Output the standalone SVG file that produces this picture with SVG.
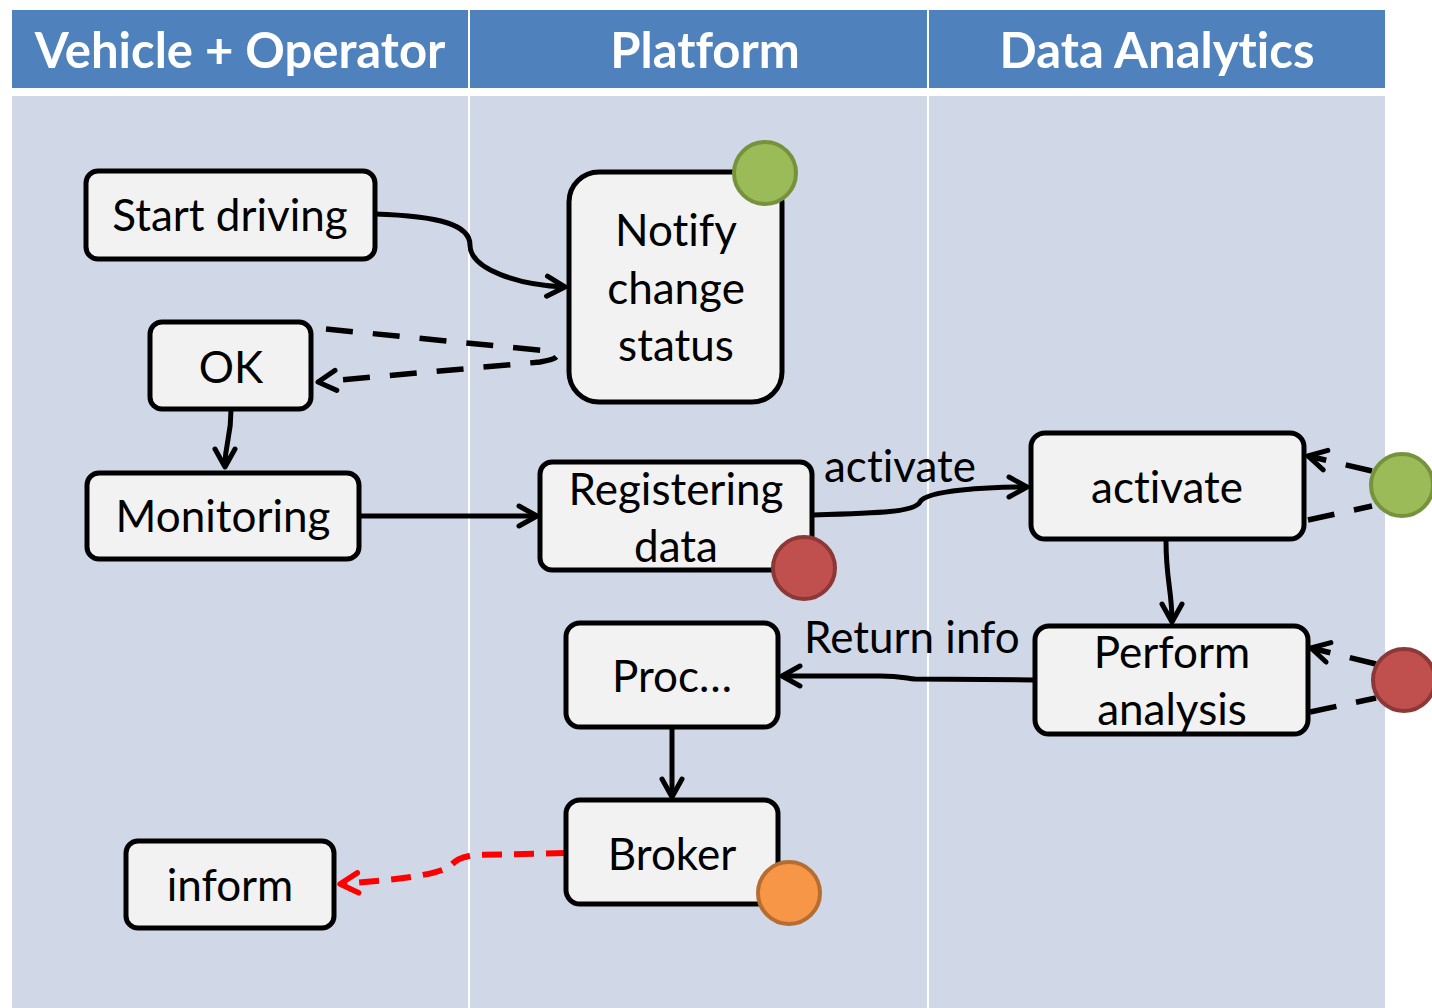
<svg xmlns="http://www.w3.org/2000/svg" width="1432" height="1008" viewBox="0 0 1432 1008">
<style>
text{font-variant-ligatures:none}
.hdr{fill:#4F81BD}
.lane{fill:#D0D8E8}
.ht{font-family:Lato,"Open Sans",sans-serif;font-weight:bold;font-size:49px;fill:#fff;text-anchor:middle}
.box{fill:#F2F2F2;stroke:#000;stroke-width:5}
.t{font-family:Lato,"Open Sans",sans-serif;font-size:44px;fill:#000;text-anchor:middle}
.lbl{font-family:Lato,"Open Sans",sans-serif;font-size:44px;fill:#000}
.c{fill:none;stroke:#000;stroke-width:5;stroke-linecap:butt}
.d{fill:none;stroke:#000;stroke-width:5.5;stroke-dasharray:27 20}
.r{fill:none;stroke:#FF0000;stroke-width:6;stroke-dasharray:20 12}
.g{fill:#9BBB59;stroke:#76923C;stroke-width:4}
.rd{fill:#C0504D;stroke:#8C3836;stroke-width:4}
.o{fill:#F79646;stroke:#B66D31;stroke-width:4}
</style>
<defs>
<marker id="a" viewBox="0 0 26 26" refX="23" refY="13" markerWidth="26" markerHeight="26" markerUnits="userSpaceOnUse" orient="auto">
<path d="M5,3 L23,13 L5,23" fill="none" stroke="#000" stroke-width="5" stroke-linecap="round" stroke-linejoin="round"/>
</marker>
<marker id="ar" viewBox="0 0 26 26" refX="23" refY="13" markerWidth="26" markerHeight="26" markerUnits="userSpaceOnUse" orient="auto">
<path d="M5,3 L23,13 L5,23" fill="none" stroke="#FF0000" stroke-width="5.5" stroke-linecap="round" stroke-linejoin="round"/>
</marker>
</defs>
<rect width="1432" height="1008" fill="#fff"/>
<g id="lanes">
<rect class="hdr" x="12" y="10" width="456" height="78"/>
<rect class="hdr" x="470" y="10" width="457" height="78"/>
<rect class="hdr" x="929" y="10" width="456" height="78"/>
<rect class="lane" x="12" y="96" width="456" height="912"/>
<rect class="lane" x="470" y="96" width="457" height="912"/>
<rect class="lane" x="929" y="96" width="456" height="912"/>
<text class="ht" x="240" y="68">Vehicle + Operator</text>
<text class="ht" x="705" y="68">Platform</text>
<text class="ht" x="1157" y="68">Data Analytics</text>
</g>
<g id="connectors">
<path class="c" d="M375,214 C440,216 470,225 470,245 C470,270 520,285 565,287" marker-end="url(#a)"/>
<path class="d" d="M326,329 L538,350 C562,352 564,358 540,362 L318,382" marker-end="url(#a)"/>
<path class="c" d="M231,410 C231,440 225,440 225,467" marker-end="url(#a)"/>
<path class="c" d="M360,516 L537,516" marker-end="url(#a)"/>
<path class="c" d="M812,515 C880,513 915,512 920,502 C926,490 990,487 1027,487" marker-end="url(#a)"/>
<path class="d" d="M1372,471 L1308,456" marker-end="url(#a)"/>
<path class="d" d="M1308,520 L1372,506"/>
<path class="c" d="M1166,541 C1166,580 1172,590 1172,622" marker-end="url(#a)"/>
<path class="c" d="M1033,680 L915,679 C905,678 900,676 880,676 L782,676" marker-end="url(#a)"/>
<path class="d" d="M1376,664 L1311,648" marker-end="url(#a)"/>
<path class="d" d="M1310,712 L1376,698"/>
<path class="c" d="M672,729 L672,797" marker-end="url(#a)"/>
<path class="r" d="M566,853 L475,855 C458,857 455,862 450,866 C440,874 400,880 340,884" marker-end="url(#ar)"/>
<text class="lbl" x="824" y="482">activate</text>
<text class="lbl" x="804" y="653">Return info</text>
</g>
<g id="start-driving"><rect class="box" x="86" y="171" width="289" height="88" rx="12"/><text class="t" x="230" y="231">Start driving</text></g>
<g id="notify"><rect class="box" x="569" y="172" width="213" height="230" rx="30"/><text class="t" x="676" y="246">Notify</text><text class="t" x="676" y="304">change</text><text class="t" x="676" y="361">status</text><circle class="g" cx="765" cy="173" r="31"/></g>
<g id="ok"><rect class="box" x="150" y="322" width="161" height="87" rx="12"/><text class="t" x="231" y="383">OK</text></g>
<g id="monitoring"><rect class="box" x="87" y="473" width="272" height="86" rx="12"/><text class="t" x="223" y="532">Monitoring</text></g>
<g id="registering"><rect class="box" x="540" y="462" width="272" height="108" rx="12"/><text class="t" x="676" y="505">Registering</text><text class="t" x="676" y="562">data</text><circle class="rd" cx="804" cy="568" r="31"/></g>
<g id="activate"><rect class="box" x="1031" y="433" width="273" height="106" rx="14"/><text class="t" x="1167" y="503">activate</text></g>
<g id="perform"><rect class="box" x="1035" y="626" width="273" height="108" rx="14"/><text class="t" x="1172" y="668">Perform</text><text class="t" x="1172" y="725">analysis</text></g>
<g id="proc"><rect class="box" x="566" y="623" width="212" height="104" rx="14"/><text class="t" x="672" y="692">Proc…</text></g>
<g id="broker"><rect class="box" x="566" y="800" width="212" height="104" rx="14"/><text class="t" x="672" y="870">Broker</text><circle class="o" cx="789" cy="893" r="31"/></g>
<g id="inform"><rect class="box" x="126" y="841" width="208" height="87" rx="12"/><text class="t" x="230" y="901">inform</text></g>
<g id="ext-green"><circle class="g" cx="1402" cy="485" r="31"/></g>
<g id="ext-red"><circle class="rd" cx="1404" cy="680" r="31"/></g>
</svg>
